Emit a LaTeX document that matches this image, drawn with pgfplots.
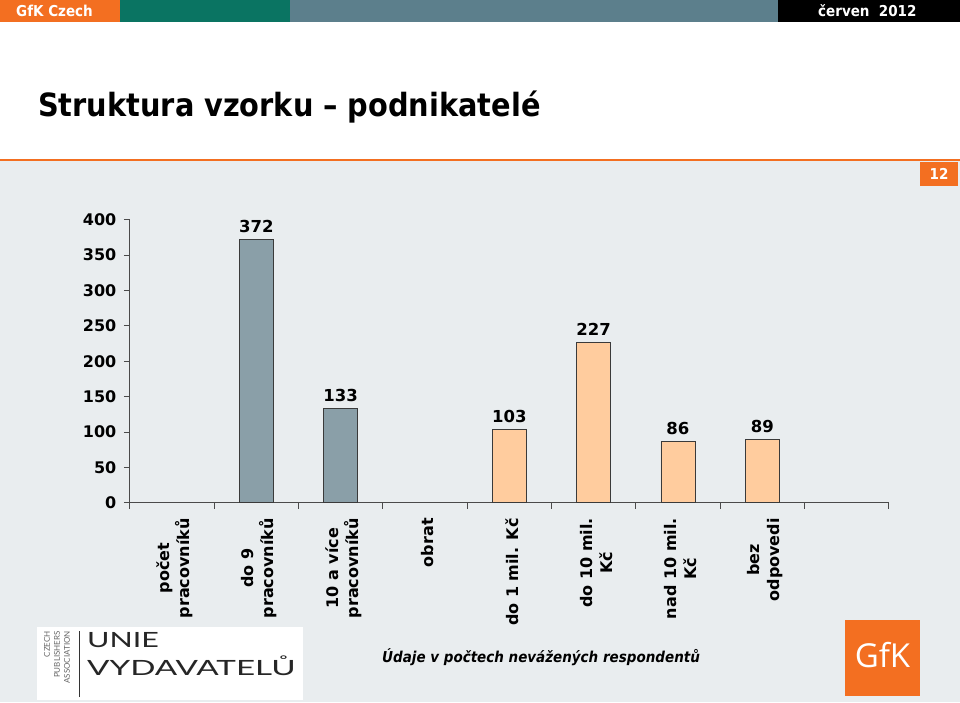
\documentclass[border=0pt]{standalone}
\usepackage{pgfplots}
\pgfplotsset{compat=1.18}
\usepackage{pgfplotstable}
\usepackage{graphicx}
\usepackage{fontspec}
\setmainfont{DejaVu Sans}
\newfontfamily\condfont{DejaVu Sans Condensed}
\newfontfamily\logofont{Lato}
\newfontfamily\gfkfont{Open Sans}

\definecolor{gfkorange}{HTML}{F36F21}
\definecolor{gfkgreen}{HTML}{0A7462}
\definecolor{gfkslate}{HTML}{5C7F8C}
\definecolor{bandgray}{HTML}{E9EDEF}
\definecolor{axisgray}{HTML}{4A4A4A}
\definecolor{barslate}{HTML}{8A9FA8}
\definecolor{barpeach}{HTML}{FFCC9E}
\definecolor{baredge}{HTML}{3A3A3A}

% pocet pracovniku
\pgfplotstableread{
x   y
1.5 372
2.5 133
}\workers
% obrat
\pgfplotstableread{
x   y
4.5 103
5.5 227
6.5 86
7.5 89
}\turnover

\begin{document}
\begin{tikzpicture}[x=1pt,y=1pt]
\useasboundingbox (0,0) rectangle (960,702);
\fill[bandgray] (0,0) rectangle (960,542);
\fill[white] (0,542) rectangle (960,680);

% header strip
\fill[gfkorange] (0,680) rectangle (120,702);
\fill[gfkgreen] (120,680) rectangle (290,702);
\fill[gfkslate] (290,680) rectangle (778,702);
\fill[black] (778,680) rectangle (960,702);
\node[anchor=west, text=white, inner sep=0pt] at (16,691)
  {\condfont\bfseries\fontsize{15}{18}\selectfont GfK Czech};
\node[anchor=west, text=white, inner sep=0pt] at (818,691)
  {\condfont\bfseries\fontsize{15}{18}\selectfont červen\ \ 2012};

% title
\node[anchor=base west, inner sep=0pt] at (38,585)
  {\condfont\bfseries\fontsize{32}{38}\selectfont Struktura vzorku – podnikatelé};

\draw[gfkorange, line width=1.4pt] (0,542) -- (960,542);
\fill[gfkorange] (920,516) rectangle (958,540);
\node[text=white, inner sep=0pt] at (939,528)
  {\condfont\bfseries\fontsize{15}{18}\selectfont 12};

\begin{axis}[
    at={(129.8pt,199.3pt)}, anchor=south west,
    scale only axis, width=759pt, height=283pt,
    xmin=0, xmax=9, ymin=0, ymax=400,
    axis lines*=left,
    axis line style={draw=axisgray, line width=0.9pt},
    tick style={draw=axisgray, line width=0.9pt},
    tick align=outside, major tick length=6pt,
    xtick={0,...,9},
    x tick label as interval,
    xticklabels={{počet\\pracovníků},{do 9\\pracovníků},{10 a více\\pracovníků},
      obrat,{do 1 mil. Kč},{do 10 mil.\\Kč},{nad 10 mil.\\Kč},{bez\\odpovedi},{}},
    xticklabel style={rotate=90, anchor=east, align=center,
      xshift=-6pt, yshift=-3pt,
      font=\bfseries\fontsize{16}{20}\selectfont},
    ytick={0,50,...,400},
    yticklabel style={font=\bfseries\fontsize{16}{18}\selectfont, xshift=-4pt},
    /pgf/number format/assume math mode=true,
    ybar, bar width=34pt, bar shift=0pt,
    nodes near coords,
    nodes near coords style={font=\bfseries\fontsize{16.5}{18}\selectfont, yshift=3pt},
    clip=false,
]
\addplot[fill=barslate, draw=baredge, line width=0.8pt] table[x=x, y=y] {\workers};
\addplot[fill=barpeach, draw=baredge, line width=0.8pt] table[x=x, y=y] {\turnover};
\end{axis}

% Unie vydavatelu logo
\fill[white] (37,2) rectangle (303,75);
\foreach \t/\xx in {CZECH/47, PUBLISHERS/57, ASSOCIATION/67}
  \node[rotate=90, anchor=east, inner sep=0pt, text=black!60] at (\xx,71)
    {\logofont\fontsize{8}{9}\selectfont \t};
\draw[black!80, line width=1pt] (79,5) -- (79,71);
\node[anchor=base west, inner sep=0pt, text=black!85] at (87,55)
  {\scalebox{1.45}[1]{\logofont\fontsize{21}{24}\selectfont UNIE}};
\node[anchor=base west, inner sep=0pt, text=black!85] at (87,27)
  {\scalebox{1.58}[1]{\logofont\fontsize{21}{24}\selectfont VYDAVATELŮ}};

% footnote
\node[anchor=base west, inner sep=0pt] at (382,40)
  {\condfont\bfseries\itshape\fontsize{15}{18}\selectfont Údaje v počtech nevážených respondentů};

% GfK logo
\fill[gfkorange] (845,6) rectangle (920,82);
\node[text=white, inner sep=0pt, anchor=base] at (882.5,35)
  {\gfkfont\fontsize{33}{38}\selectfont GfK};
\end{tikzpicture}
\end{document}
